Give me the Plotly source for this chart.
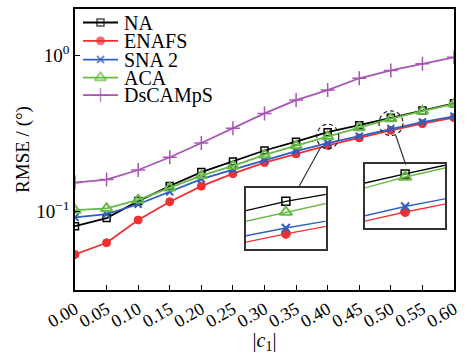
import plotly.graph_objects as go

# ---------------- data ----------------
c1 = [0.00, 0.05, 0.10, 0.15, 0.20, 0.25, 0.30, 0.35, 0.40, 0.45, 0.50, 0.55, 0.60]
x_ticktext = ["0.00", "0.05", "0.10", "0.15", "0.20", "0.25", "0.30",
              "0.35", "0.40", "0.45", "0.50", "0.55", "0.60"]
y_tickvals = [0.1, 1]
y_ticktext = ["10<sup>\u22121</sup>", "10<sup>0</sup>"]

NA = [0.080, 0.0903, 0.116, 0.145, 0.178, 0.208, 0.245, 0.279, 0.321, 0.356, 0.398, 0.443, 0.492]
ENAFS = [0.0527, 0.0627, 0.0877, 0.115, 0.1446, 0.174, 0.205, 0.233, 0.264, 0.295, 0.330, 0.364, 0.398]
SNA2 = [0.0912, 0.0957, 0.1107, 0.133, 0.1606, 0.1846, 0.213, 0.243, 0.2735, 0.303, 0.339, 0.373, 0.406]
ACA = [0.1015, 0.104, 0.118, 0.141, 0.169, 0.195, 0.2296, 0.263, 0.301, 0.343, 0.392, 0.438, 0.488]
DsCAMpS = [0.1526, 0.1595, 0.1836, 0.2217, 0.2735, 0.340, 0.4236, 0.516, 0.598, 0.712, 0.800, 0.881, 0.971]

names = ["NA", "ENAFS", "SNA 2", "ACA", "DsCAMpS"]
values = [NA, ENAFS, SNA2, ACA, DsCAMpS]

# ---------------- styles ----------------
colors = ["#000000", "#f03030", "#2f5fbf", "#66bb44", "#a855b5"]
symbols = ["square-open", "circle", "x-thin-open", "triangle-up-open", "cross-thin-open"]
msizes = [7, 8, 7, 10, 10]
mlw = [1.5, 1, 2, 2, 1.5]

FONT = "Liberation Serif, Times New Roman, serif"

fig = go.Figure()

# main traces
for n, v, c, s, ms, lw in zip(names, values, colors, symbols, msizes, mlw):
    fig.add_trace(go.Scatter(
        x=c1, y=v, name=n, mode="lines+markers",
        line=dict(color=c, width=1.8),
        marker=dict(symbol=s, size=ms, color=c, line=dict(color=c, width=lw)),
        xaxis="x", yaxis="y", showlegend=False))

# inset traces (first four series)
for ax in ["2", "3"]:
    for n, v, c, s, ms, lw in list(zip(names, values, colors, symbols, msizes, mlw))[:4]:
        fig.add_trace(go.Scatter(
            x=c1, y=v, name=n, mode="lines+markers",
            line=dict(color=c, width=1.4),
            marker=dict(symbol=s, size=ms + 1, color=c, line=dict(color=c, width=lw)),
            xaxis="x" + ax, yaxis="y" + ax, showlegend=False))

# custom legend drawn in an overlay axis measured in plot-area pixels
leg_rows = [20.7, 39.3, 58.3, 76.7, 94.3]
for n, c, s, ms, lw, ry in zip(names, colors, symbols, msizes, mlw, leg_rows):
    fig.add_trace(go.Scatter(
        x=[83, 100.5, 118], y=[ry, ry, ry], mode="lines+markers",
        line=dict(color=c, width=1.8),
        marker=dict(symbol=s, size=[0, ms, 0], color=c, line=dict(color=c, width=lw)),
        xaxis="x4", yaxis="y4", showlegend=False, hoverinfo="skip"))
    fig.add_annotation(x=122, y=ry, xref="x4", yref="y4", text=n, showarrow=False,
                       xanchor="left", yanchor="middle",
                       font=dict(family=FONT, size=20, color="#000"))

W, H = 471, 354
L, R, T, B = 75, 17, 7, 62
pw, ph = W - L - R, H - T - B


def px_x(p):
    return (p - L) / pw


def px_y(p):
    return (H - B - p) / ph


axis_common = dict(showline=True, linecolor="#000", linewidth=1.5, mirror=True,
                   showgrid=False, zeroline=False)
inset_common = dict(showline=True, linecolor="#333", linewidth=1.5, mirror=True,
                    showgrid=False, zeroline=False, showticklabels=False, ticks="")

fig.update_layout(
    width=W, height=H,
    margin=dict(l=L, r=R, t=T, b=B, pad=0),
    paper_bgcolor="white", plot_bgcolor="white",
    font=dict(family=FONT, color="#000"),
    showlegend=False,
    xaxis=dict(**axis_common, range=[0, 0.6], tickvals=c1, ticktext=x_ticktext,
               ticks="inside", ticklen=5, tickwidth=1.2, tickcolor="#000",
               tickangle=-30, tickfont=dict(family=FONT, size=18),
               title=dict(text="|<i>c</i><sub>1</sub>|", font=dict(family=FONT, size=20), standoff=2)),
    yaxis=dict(**axis_common, type="log", range=[-1.506, 0.297],
               tickvals=y_tickvals, ticktext=y_ticktext,
               ticks="inside", ticklen=5, tickwidth=1.2, tickcolor="#000",
               tickfont=dict(family=FONT, size=19),
               title=dict(text="RMSE / (\u00b0)", font=dict(family=FONT, size=19), standoff=2)),
    xaxis2=dict(**inset_common, domain=[px_x(246), px_x(325.7)], range=[0.38, 0.42], anchor="y2"),
    yaxis2=dict(**inset_common, domain=[px_y(250), px_y(188.3)], type="log",
                range=[-0.617, -0.458], anchor="x2"),
    xaxis3=dict(**inset_common, domain=[px_x(365), px_x(445.3)], range=[0.48, 0.52], anchor="y3"),
    yaxis3=dict(**inset_common, domain=[px_y(229.3), px_y(164.7)], type="log",
                range=[-0.516, -0.380], anchor="x3"),
    xaxis4=dict(overlaying="x", range=[L, W - R], visible=False, anchor="y4"),
    yaxis4=dict(overlaying="y", range=[H - B, T], visible=False, anchor="x4"),
)

# dashed circles around zoomed points + connector lines
circles = [(327.8, 136.3, 11, 12.5), (391, 122.8, 12, 12.5)]
for cx, cy, rx, ry in circles:
    fig.add_shape(type="circle", xref="paper", yref="paper", layer="above",
                  x0=px_x(cx - rx), x1=px_x(cx + rx), y0=px_y(cy + ry), y1=px_y(cy - ry),
                  line=dict(color="#222", width=1.2, dash="4px,3px"))
connectors = [((320.7, 147.3), (298.3, 188.3)), ((395.7, 135.0), (405.7, 164.7))]
for (xa, ya), (xb, yb) in connectors:
    fig.add_shape(type="line", xref="paper", yref="paper",
                  x0=px_x(xa), y0=px_y(ya), x1=px_x(xb), y1=px_y(yb),
                  line=dict(color="#333", width=1.2))

fig.write_html("out.html")
